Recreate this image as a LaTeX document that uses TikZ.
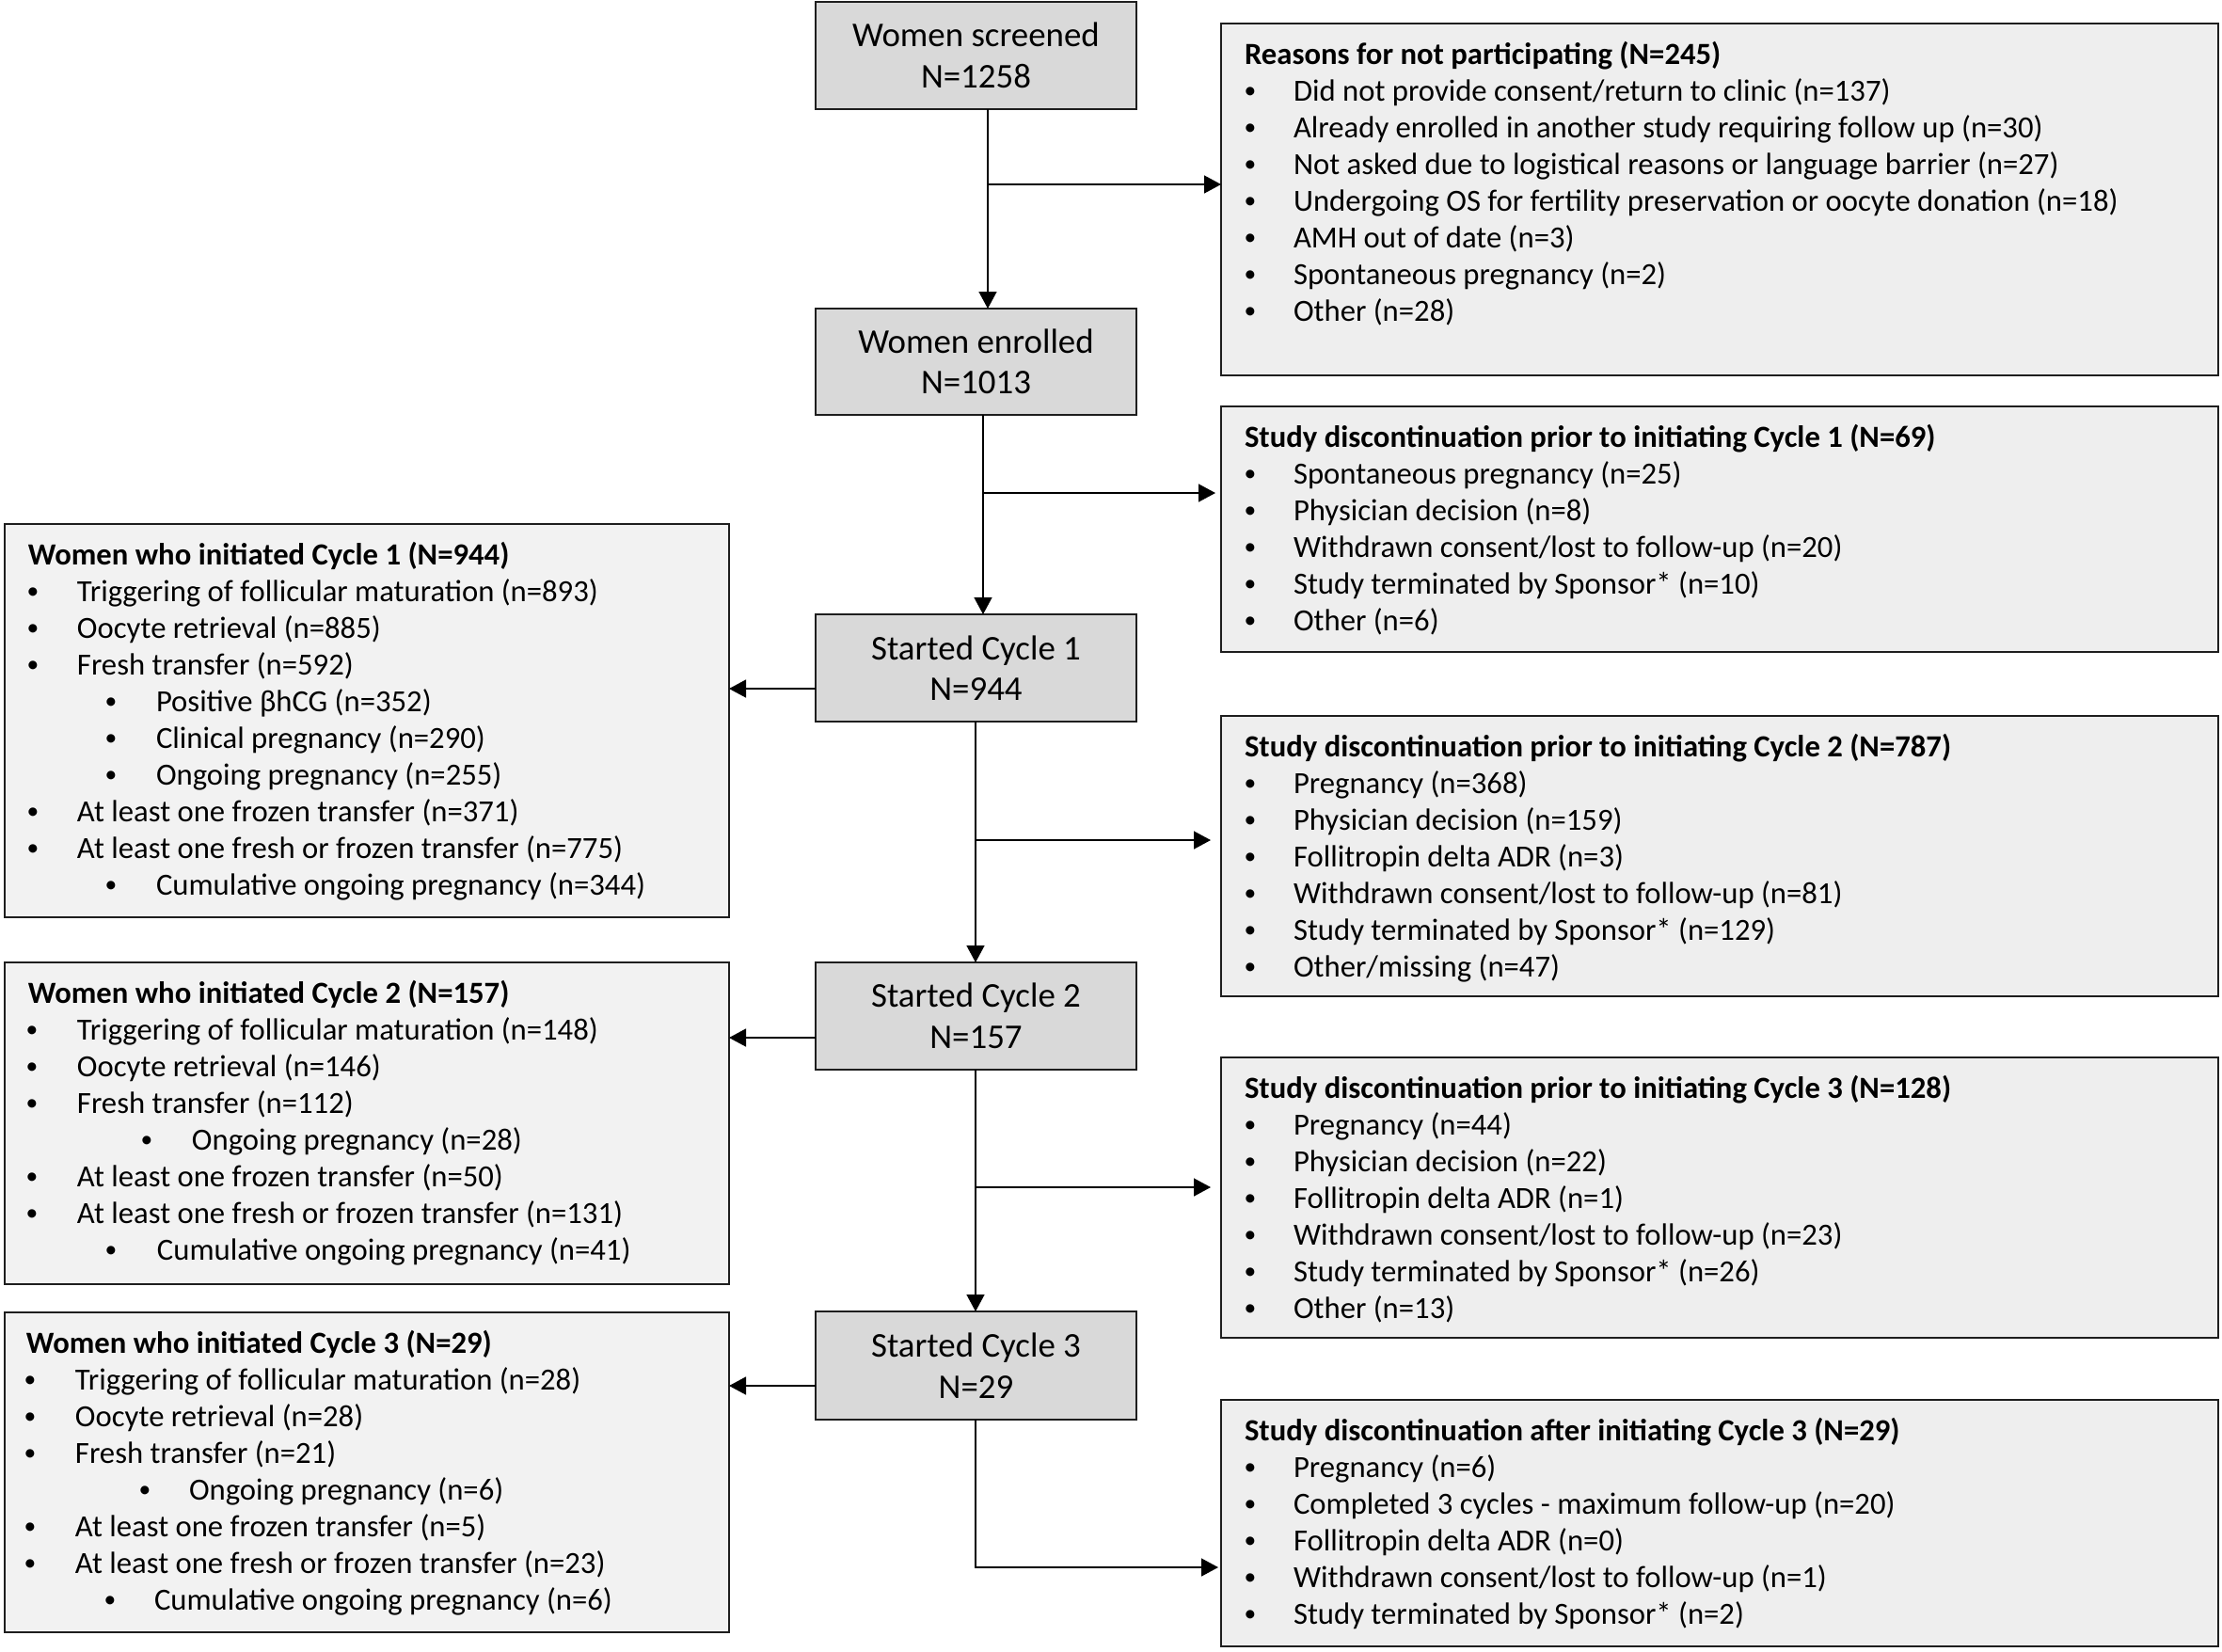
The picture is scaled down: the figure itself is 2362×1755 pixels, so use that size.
\documentclass[tikz,border=0pt]{standalone}
\usepackage{fontspec}
\setmainfont{Carlito}
\usetikzlibrary{arrows.meta}
\newdimen\pxu \pxu=0.1mm
\newcommand\bul[3]{\hspace*{#1\pxu}\makebox[0pt][c]{\raisebox{0.15ex}{\scalebox{0.78}{\textbullet}}}\hspace*{\dimexpr#2\pxu-#1\pxu\relax}#3\par}
\newcommand\ttl[1]{{\bfseries #1}\par}
\definecolor{mainfill}{HTML}{D9D9D9}
\definecolor{rightfill}{HTML}{EEEEEE}
\definecolor{leftfill}{HTML}{F2F2F2}
\definecolor{edgecol}{HTML}{1E1E1E}
\tikzset{
  mainbox/.style={draw=edgecol, line width=0.55pt, fill=mainfill, inner sep=0pt, outer sep=0pt,
    minimum width=34.1mm, align=center, font=\fontsize{10.5}{12.4}\selectfont},
  rbox/.style={draw=edgecol, line width=0.55pt, fill=rightfill, inner sep=0pt, outer sep=0pt, minimum width=106mm},
  lbox/.style={draw=edgecol, line width=0.55pt, fill=leftfill, inner sep=0pt, outer sep=0pt, minimum width=77mm},
  listtext/.style={anchor=base west, inner sep=0pt, outer sep=0pt, font=\fontsize{9.3}{11.1}\selectfont},
  arr/.style={line width=0.4pt, draw=black, -{Triangle[length=1.8mm,width=1.9mm]}},
  link/.style={line width=0.4pt, draw=black},
}
\begin{document}
\begin{tikzpicture}[x=0.1mm, y=-0.1mm]
\useasboundingbox[fill=white] (0,0) rectangle (2362,1755);

% centre column
\node[mainbox, minimum height=11.4mm] (scr) at (1037.5,59) {Women screened\\N=1258};
\node[mainbox, minimum height=11.3mm] (enr) at (1037.5,384.5) {Women enrolled\\N=1013};
\node[mainbox, minimum height=11.4mm] (c1) at (1037.5,710) {Started Cycle 1\\N=944};
\node[mainbox, minimum height=11.4mm] (c2) at (1037.5,1080) {Started Cycle 2\\N=157};
\node[mainbox, minimum height=11.5mm] (c3) at (1037.5,1451.5) {Started Cycle 3\\N=29};

% right boxes
\node[rbox, minimum height=37.4mm] (rsn) at (1828,212) {};
\node[rbox, minimum height=26.1mm] (d1) at (1828,562.5) {};
\node[rbox, minimum height=29.8mm] (d2) at (1828,910) {};
\node[rbox, minimum height=29.8mm] (d3) at (1828,1273) {};
\node[rbox, minimum height=26.2mm] (d4) at (1828,1619) {};

% left boxes
\node[lbox, minimum height=41.8mm] (w1) at (390,766) {};
\node[lbox, minimum height=34.2mm] (w2) at (390,1194) {};
\node[lbox, minimum height=34.0mm] (w3) at (390,1565) {};

% right texts
\node[listtext] (trsn) at (1323,68) {\parbox[t]{120mm}{%
\ttl{Reasons for not participating (N=245)}
\bul{6}{52}{Did not provide consent/return to clinic (n=137)}
\bul{6}{52}{Already enrolled in another study requiring follow up (n=30)}
\bul{6}{52}{Not asked due to logistical reasons or language barrier (n=27)}
\bul{6}{52}{Undergoing OS for fertility preservation or oocyte donation (n=18)}
\bul{6}{52}{AMH out of date (n=3)}
\bul{6}{52}{Spontaneous pregnancy (n=2)}
\bul{6}{52}{Other (n=28)}}};

\node[listtext] (td1) at (1323,475) {\parbox[t]{120mm}{%
\ttl{Study discontinuation prior to initiating Cycle 1 (N=69)}
\bul{6}{52}{Spontaneous pregnancy (n=25)}
\bul{6}{52}{Physician decision (n=8)}
\bul{6}{52}{Withdrawn consent/lost to follow-up (n=20)}
\bul{6}{52}{Study terminated by Sponsor* (n=10)}
\bul{6}{52}{Other (n=6)}}};

\node[listtext] (td2) at (1323,804) {\parbox[t]{120mm}{%
\ttl{Study discontinuation prior to initiating Cycle 2 (N=787)}
\bul{6}{52}{Pregnancy (n=368)}
\bul{6}{52}{Physician decision (n=159)}
\bul{6}{52}{Follitropin delta ADR (n=3)}
\bul{6}{52}{Withdrawn consent/lost to follow-up (n=81)}
\bul{6}{52}{Study terminated by Sponsor* (n=129)}
\bul{6}{52}{Other/missing (n=47)}}};

\node[listtext] (td3) at (1323,1167) {\parbox[t]{120mm}{%
\ttl{Study discontinuation prior to initiating Cycle 3 (N=128)}
\bul{6}{52}{Pregnancy (n=44)}
\bul{6}{52}{Physician decision (n=22)}
\bul{6}{52}{Follitropin delta ADR (n=1)}
\bul{6}{52}{Withdrawn consent/lost to follow-up (n=23)}
\bul{6}{52}{Study terminated by Sponsor* (n=26)}
\bul{6}{52}{Other (n=13)}}};

\node[listtext] (td4) at (1323,1531) {\parbox[t]{120mm}{%
\ttl{Study discontinuation after initiating Cycle 3 (N=29)}
\bul{6}{52}{Pregnancy (n=6)}
\bul{6}{52}{Completed 3 cycles - maximum follow-up (n=20)}
\bul{6}{52}{Follitropin delta ADR (n=0)}
\bul{6}{52}{Withdrawn consent/lost to follow-up (n=1)}
\bul{6}{52}{Study terminated by Sponsor* (n=2)}}};

% left texts
\node[listtext] (tw1) at (30,600) {\parbox[t]{120mm}{%
\ttl{Women who initiated Cycle 1 (N=944)}
\bul{5}{52}{Triggering of follicular maturation (n=893)}
\bul{5}{52}{Oocyte retrieval (n=885)}
\bul{5}{52}{Fresh transfer (n=592)}
\bul{88}{136}{Positive βhCG (n=352)}
\bul{88}{136}{Clinical pregnancy (n=290)}
\bul{88}{136}{Ongoing pregnancy (n=255)}
\bul{5}{52}{At least one frozen transfer (n=371)}
\bul{5}{52}{At least one fresh or frozen transfer (n=775)}
\bul{88}{136}{Cumulative ongoing pregnancy (n=344)}}};

\node[listtext] (tw2) at (30,1066) {\parbox[t]{120mm}{%
\ttl{Women who initiated Cycle 2 (N=157)}
\bul{4}{52}{Triggering of follicular maturation (n=148)}
\bul{4}{52}{Oocyte retrieval (n=146)}
\bul{4}{52}{Fresh transfer (n=112)}
\bul{126}{174}{Ongoing pregnancy (n=28)}
\bul{4}{52}{At least one frozen transfer (n=50)}
\bul{4}{52}{At least one fresh or frozen transfer (n=131)}
\bul{88}{137}{Cumulative ongoing pregnancy (n=41)}}};

\node[listtext] (tw3) at (28,1438) {\parbox[t]{120mm}{%
\ttl{Women who initiated Cycle 3 (N=29)}
\bul{4}{52}{Triggering of follicular maturation (n=28)}
\bul{4}{52}{Oocyte retrieval (n=28)}
\bul{4}{52}{Fresh transfer (n=21)}
\bul{126}{173}{Ongoing pregnancy (n=6)}
\bul{4}{52}{At least one frozen transfer (n=5)}
\bul{4}{52}{At least one fresh or frozen transfer (n=23)}
\bul{89}{136}{Cumulative ongoing pregnancy (n=6)}}};

% junction coordinates
\coordinate (j1) at (1050,196);
\coordinate (j2) at (1045,524);
\coordinate (j3) at (1037,893);
\coordinate (j4) at (1037,1262);
\coordinate (j5) at (1037,1666);

% vertical flow
\draw[arr] (scr.south -| j1) -- (enr.north -| j1);
\draw[arr] (enr.south -| j2) -- (c1.north -| j2);
\draw[arr] (c1.south -| j3) -- (c2.north -| j3);
\draw[arr] (c2.south -| j4) -- (c3.north -| j4);

% branches to the right
\draw[arr] (j1) -- (j1 -| rsn.west);
\draw[arr, shorten >=0.6mm] (j2) -- (j2 -| d1.west);
\draw[arr, shorten >=1.1mm] (j3) -- (j3 -| d2.west);
\draw[arr, shorten >=1.1mm] (j4) -- (j4 -| d3.west);
\draw[arr, shorten >=0.3mm] (c3.south -| j5) -- (j5) -- (j5 -| d4.west);

% branches to the left
\coordinate (k1) at (867,732);
\coordinate (k2) at (867,1103);
\coordinate (k3) at (867,1473);
\draw[arr] (k1) -- (k1 -| w1.east);
\draw[arr] (k2) -- (k2 -| w2.east);
\draw[arr] (k3) -- (k3 -| w3.east);
\end{tikzpicture}
\end{document}
